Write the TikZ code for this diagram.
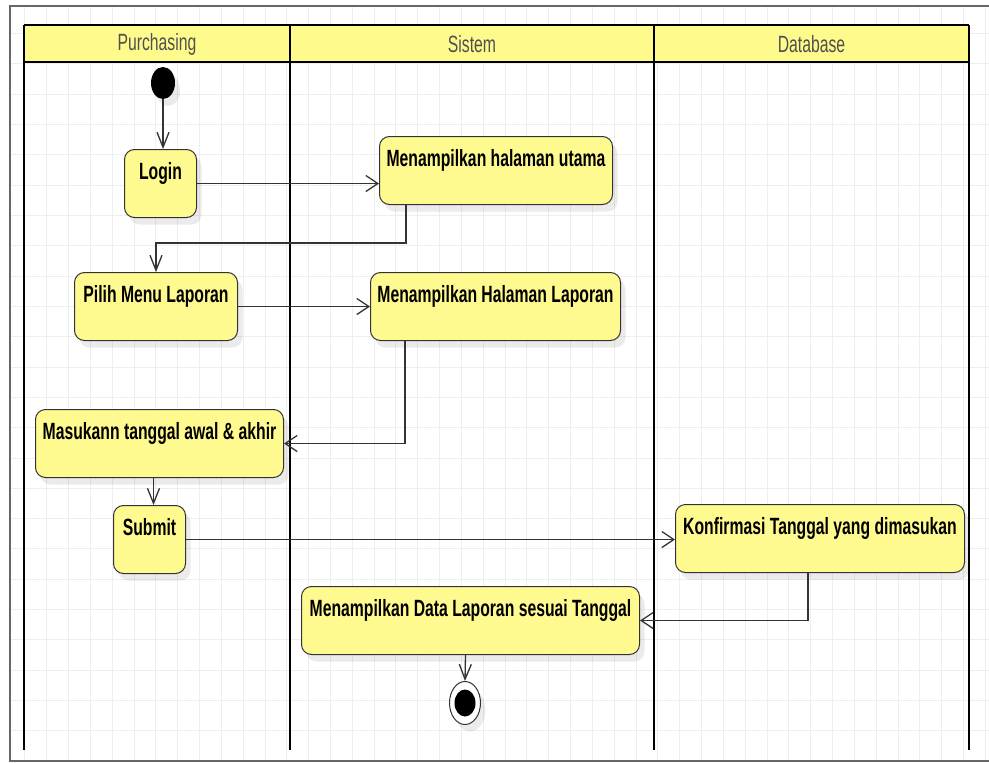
\documentclass[tikz,border=0pt]{standalone}
\usepackage{fontspec}
\newfontfamily\narrowsans[FakeStretch=0.67]{Liberation Sans}
\usetikzlibrary{arrows.meta,shapes.geometric,shadows}
\definecolor{actfill}{HTML}{FFFA8F}
\definecolor{headfill}{HTML}{FFFA8C}
\definecolor{edgegray}{HTML}{333333}
\definecolor{headtext}{HTML}{505050}
\definecolor{gridgray}{HTML}{EEEEEE}
\tikzset{
  gridline/.style={draw=gridgray, line width=0.9pt},
  frameline/.style={draw=black!60, line width=1.2pt},
  laneline/.style={draw=black, line width=2.2pt},
  lanetitle/.style={font=\narrowsans\fontsize{23.5}{27}\selectfont, text=headtext, inner sep=0pt},
  softshadow/.style={drop shadow={shadow xshift=5pt, shadow yshift=-7pt, fill=black, opacity=0.08}},
  actbox/.style={rectangle, rounded corners=10pt, draw=edgegray, line width=1pt,
    fill=actfill, softshadow, anchor=north west, inner xsep=0pt, inner ysep=0pt,
    text height=30pt, text depth=38pt, align=center,
    font=\narrowsans\bfseries\fontsize{23.5}{27}\selectfont},
  startnode/.style={ellipse, fill=black, minimum width=24pt, minimum height=32pt,
    inner sep=0pt, softshadow},
  endnode/.style={ellipse, draw=black!80, line width=1pt, fill=white,
    minimum width=31pt, minimum height=43pt, inner sep=0pt, softshadow,
    path picture={\fill[black] (path picture bounding box.center)
      ellipse[x radius=10.5pt, y radius=13.5pt];}},
  flow/.style={draw=edgegray, line width=1.3pt},
  harr/.style={flow, -{Straight Barb[length=12pt, width=16pt, line width=1.3pt]}},
  varr/.style={flow, -{Straight Barb[length=15pt, width=12pt, line width=1.3pt]}}
}
\begin{document}
\begin{tikzpicture}[x=1pt, y=-1pt]
\useasboundingbox (0,0) rectangle (989,763);
\fill[white] (0,0) rectangle (989,763);

% background grid inside the frame
\begin{scope}
  \clip (10,6) rectangle (989,761);
  \foreach \i in {0,...,45} \draw[gridline] ({3+\i*21.83},0) -- ({3+\i*21.83},763);
  \foreach \j in {0,...,25} \draw[gridline] (0,{3+\j*30.33}) -- (989,{3+\j*30.33});
\end{scope}

% outer frame
\draw[frameline] (989,6) -- (10,6) -- (10,761) -- (989,761);

% swimlanes
\fill[headfill] (24,25) rectangle (969,62);
\draw[laneline] (24,25) -- (969,25);
\draw[laneline] (24,62) -- (969,62);
\foreach \x in {24,290,654,969} \draw[laneline] (\x,25) -- (\x,750);
\node[lanetitle] (lanep) at (157,44) {Purchasing};
\node[lanetitle] (lanes) at (472,44) {Sistem};
\node[lanetitle] (laned) at (811.5,44) {Database};

% activities
\node[startnode] (init) at (163,83) {};
\node[actbox, minimum width=72pt, minimum height=68pt] (login) at (124,149) {Login};
\node[actbox, minimum width=233pt, minimum height=68pt] (main) at (379,136) {Menampilkan halaman utama};
\node[actbox, minimum width=163pt, minimum height=68pt] (pilih) at (74,272) {Pilih Menu Laporan};
\node[actbox, minimum width=250pt, minimum height=68pt] (lap) at (370,272) {Menampilkan Halaman Laporan};
\node[actbox, minimum width=248pt, minimum height=68pt] (masuk) at (35,409) {Masukann tanggal awal \& akhir};
\node[actbox, minimum width=72pt, minimum height=68pt] (submit) at (113,505) {Submit};
\node[actbox, minimum width=289pt, minimum height=68pt] (konf) at (675,504) {Konfirmasi Tanggal yang dimasukan};
\node[actbox, minimum width=338pt, minimum height=68pt] (data) at (301,586) {Menampilkan Data Laporan sesuai Tanggal};
\node[endnode] (final) at (465,703) {};

% control flows
\draw[varr] (init) -- (init |- login.north);
\draw[harr] (login) -- (login -| main.west);
\draw[varr] ([xshift=27pt]main.south west) |- ([yshift=29pt]pilih.north) -- (pilih.north);
\draw[harr] (pilih) -- (pilih -| lap.west);
\draw[harr] ([xshift=35pt]lap.south west) |- (masuk.east);
\draw[varr] ([xshift=-6pt]masuk.south) -- ([xshift=4pt]submit.north);
\draw[harr] (submit) -- (submit -| konf.west);
\draw[harr] ([xshift=133pt]konf.south west) |- (data.east);
\draw[varr] ([xshift=-5pt]data.south) -- (final.north);
\end{tikzpicture}
\end{document}
